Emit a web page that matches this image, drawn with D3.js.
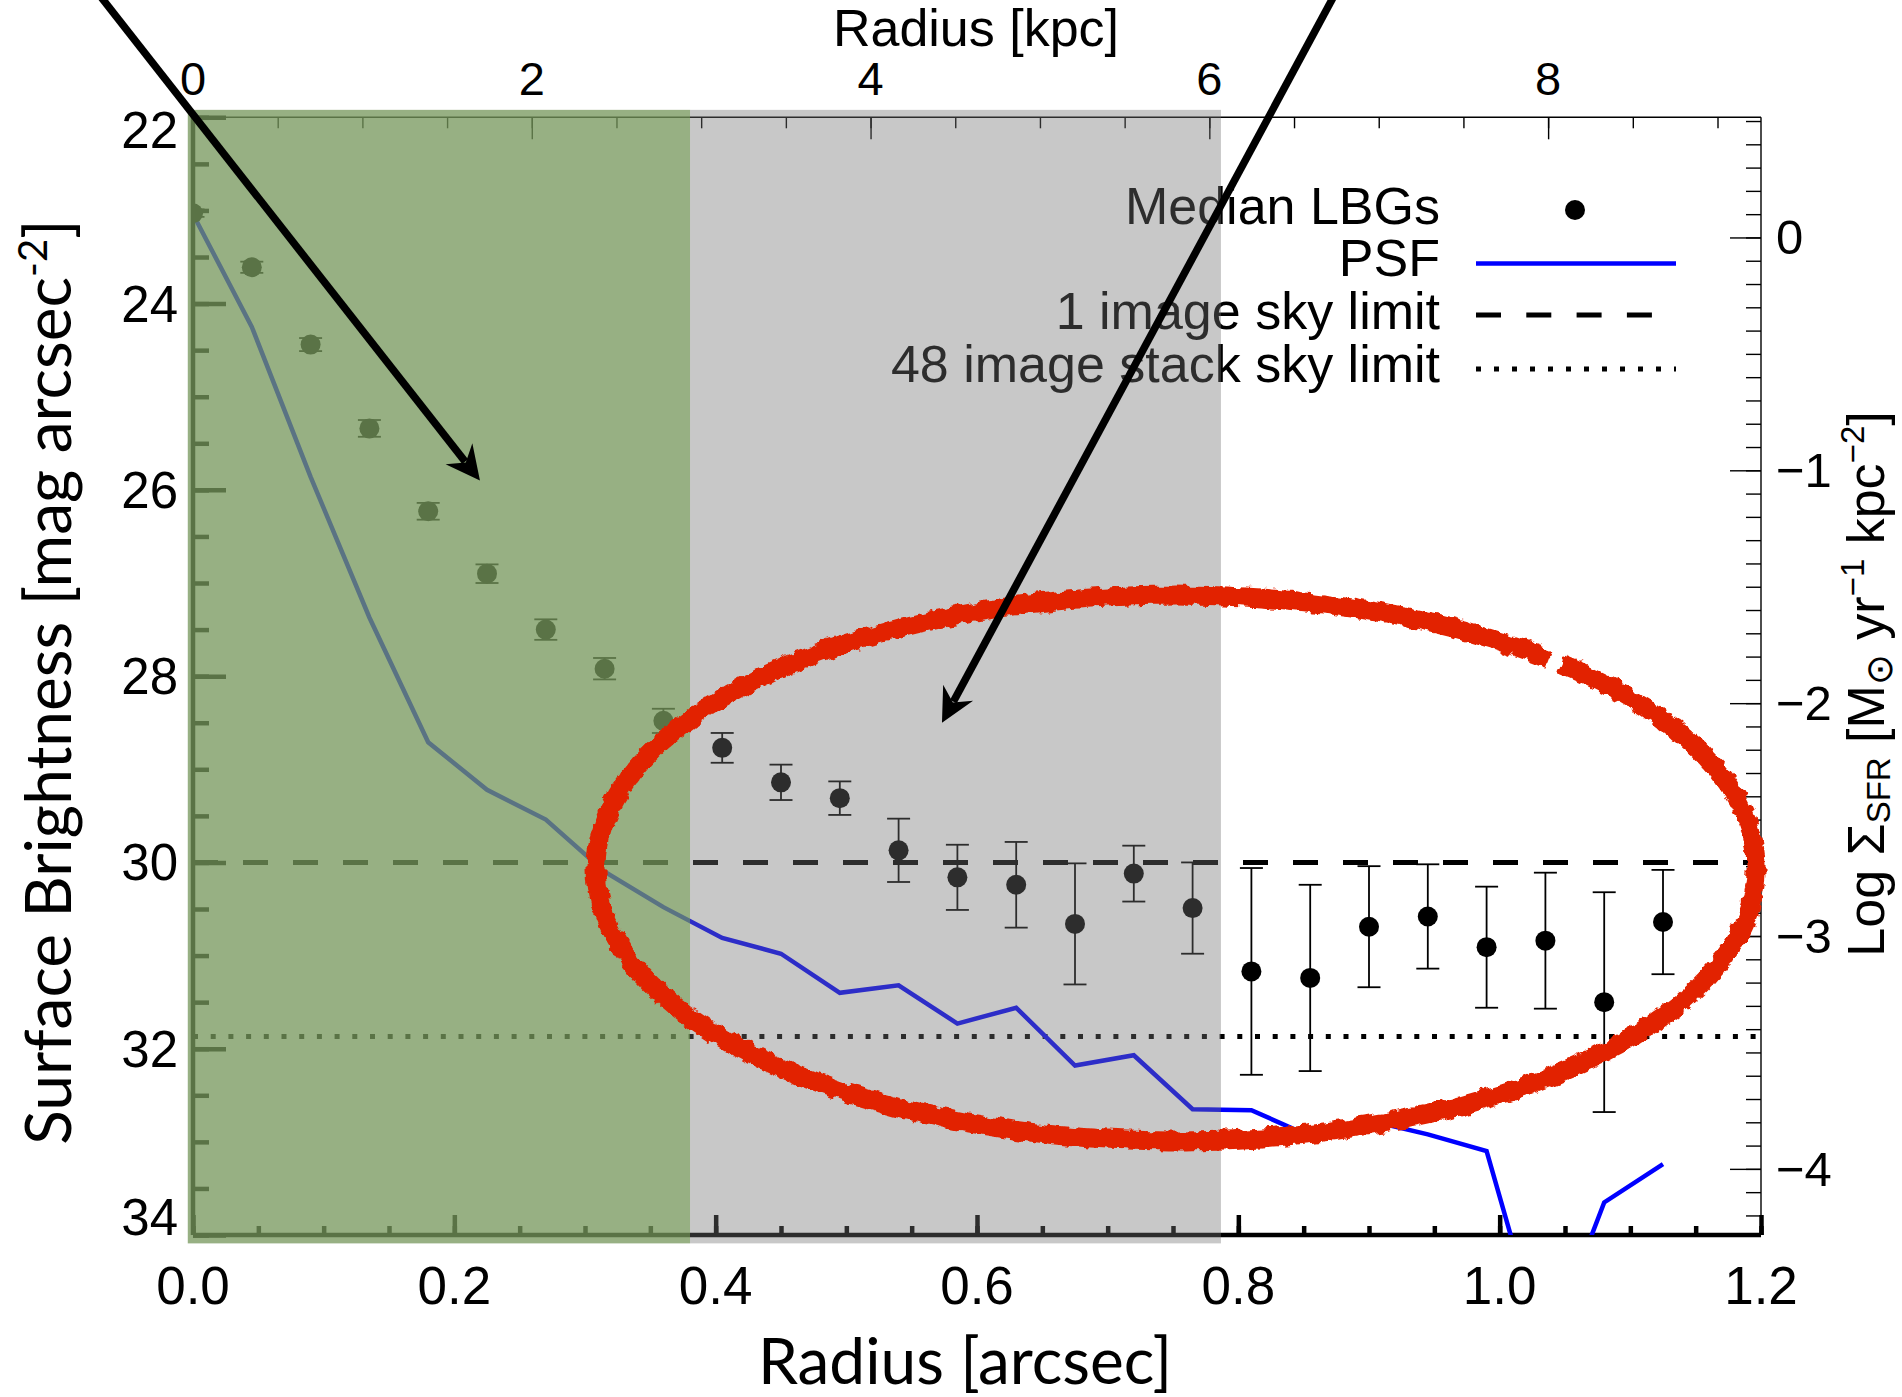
<!DOCTYPE html>
<html><head><meta charset="utf-8">
<script src="https://cdn.jsdelivr.net/npm/d3@7"></script>
<style>
html,body{margin:0;padding:0;background:#fff;}
svg{display:block;}
</style></head><body>
<svg id="chart" width="1902" height="1397"></svg>
<script>
// ---------------- data ----------------
const radiusArcsec = [0.000,0.045,0.090,0.135,0.180,0.225,0.270,0.315,0.360,0.405,0.450,0.495,0.540,
                      0.585,0.630,0.675,0.720,0.765,0.810,0.855,0.900,0.945,0.990,1.035,1.080,1.125];
const lbgMag = [23.03,23.61,24.44,25.34,26.23,26.90,27.50,27.92,28.48,28.77,29.14,29.31,29.87,
                30.16,30.24,30.66,30.12,30.49,31.17,31.24,30.69,30.58,30.91,30.84,31.50,30.64];
const lbgErr = [0.04,0.06,0.07,0.09,0.09,0.10,0.11,0.115,0.13,0.16,0.19,0.18,0.34,
                0.35,0.46,0.65,0.30,0.49,1.11,1.00,0.65,0.56,0.65,0.73,1.18,0.56];
const psfMag = [23.04,24.25,25.86,27.37,28.71,29.22,29.54,30.10,30.48,30.81,30.98,31.40,31.32,
                31.73,31.56,32.18,32.07,32.65,32.66,32.94,32.77,32.92,33.10,35.30,33.65,33.24];
const skyLimit1 = 30.0;
const skyLimit48 = 31.87;
const shadeGreen = [-0.004, 0.3804];
const shadeGray = [0.3804, 0.7867];
const shadeMag = [21.92, 34.09];
const xTicks = [0.0,0.2,0.4,0.6,0.8,1.0,1.2];
const xTickLabels = ["0.0","0.2","0.4","0.6","0.8","1.0","1.2"];
const kpcTicks = [0,2,4,6,8];
const kpcTickLabels = ["0","2","4","6","8"];
const magTicks = [22,24,26,28,30,32,34];
const magTickLabels = ["22","24","26","28","30","32","34"];
const sfrTicks = [0,-1,-2,-3,-4];
const sfrTickLabels = ["0","\u22121","\u22122","\u22123","\u22124"];
const kpcPerArcsec = 7.714;
const magAtLogSfrZero = 23.29;
const legendLabels = ["Median LBGs","PSF","1 image sky limit","48 image stack sky limit"];
// annotations (data coordinates: [arcsec, mag])
const arrows = [
  {from:[-0.0804,20.53], to:[0.2196,25.90]},
  {from:[0.8796,20.53], to:[0.5732,28.50]}
];
const ellipseC = [0.7523, 30.06];
const ellipseR = [0.4439, 2.93];

// ---------------- scales ----------------
const L = 193, R = 1761, T = 117.3, B = 1235;
const x = d3.scaleLinear().domain([0,1.2]).range([L,R]);
const y = d3.scaleLinear().domain([22,34]).range([T,B]);
const xk = d3.scaleLinear().domain([0,1.2*kpcPerArcsec]).range([L,R]);
const ys = d3.scaleLinear().domain([(magAtLogSfrZero-22)/2.5,(magAtLogSfrZero-34)/2.5]).range([T,B]);

const svg = d3.select("#chart");
const defs = svg.append("defs");
defs.append("clipPath").attr("id","plotclip").append("rect")
  .attr("x",L).attr("y",T).attr("width",R-L).attr("height",B-T);
const flt = defs.append("filter").attr("id","rough")
  .attr("x","-10%").attr("y","-10%").attr("width","120%").attr("height","120%");
flt.append("feTurbulence").attr("type","fractalNoise").attr("baseFrequency","0.09")
  .attr("numOctaves",3).attr("seed",7).attr("result","noise");
flt.append("feDisplacementMap").attr("in","SourceGraphic").attr("in2","noise")
  .attr("scale",9).attr("xChannelSelector","R").attr("yChannelSelector","G");

const tickFont = "'Liberation Sans', Arial, Helvetica, sans-serif";
const titleFont = "Lato, 'Open Sans', sans-serif";

// ---------------- axes ----------------
const gAx = svg.append("g");
function styleAx(w){ return g=>{g.select(".domain").remove(); g.selectAll("line").attr("stroke","#000").attr("stroke-width",w);}; }
gAx.append("g").attr("transform",`translate(${L},0)`)
  .call(d3.axisRight(y).tickValues(d3.range(22,34.01,0.5)).tickSize(16).tickFormat(()=>"")).call(styleAx(4.5));
gAx.append("g").attr("transform",`translate(${L},0)`)
  .call(d3.axisRight(y).tickValues(magTicks).tickSize(33).tickFormat(()=>"")).call(styleAx(4.5));
gAx.append("g").attr("transform",`translate(0,${B})`)
  .call(d3.axisTop(x).tickValues(d3.range(0,1.2001,0.05)).tickSize(9).tickFormat(()=>"")).call(styleAx(4.5));
gAx.append("g").attr("transform",`translate(0,${B})`)
  .call(d3.axisTop(x).tickValues(xTicks).tickSize(20).tickFormat(()=>"")).call(styleAx(4.5));
gAx.append("g").attr("transform",`translate(0,${T})`)
  .call(d3.axisBottom(xk).tickValues(d3.range(0,9.26,0.5)).tickSize(11).tickFormat(()=>"")).call(styleAx(1.4));
gAx.append("g").attr("transform",`translate(0,${T})`)
  .call(d3.axisBottom(xk).tickValues(kpcTicks).tickSize(22).tickFormat(()=>"")).call(styleAx(1.4));
gAx.append("g").attr("transform",`translate(${R},0)`)
  .call(d3.axisLeft(ys).tickValues(d3.range(0.5,-4.3,-0.1).map(v=>Math.round(v*10)/10)).tickSize(15).tickFormat(()=>"")).call(styleAx(1.4));
gAx.append("g").attr("transform",`translate(${R},0)`)
  .call(d3.axisLeft(ys).tickValues(sfrTicks).tickSize(31).tickFormat(()=>"")).call(styleAx(1.4));
gAx.append("line").attr("x1",L).attr("x2",R).attr("y1",T).attr("y2",T).attr("stroke","#000").attr("stroke-width",1.4);
gAx.append("line").attr("x1",R).attr("x2",R).attr("y1",T).attr("y2",B).attr("stroke","#000").attr("stroke-width",1.4);
gAx.append("line").attr("x1",L).attr("x2",R).attr("y1",B).attr("y2",B).attr("stroke","#000").attr("stroke-width",4.5);
gAx.append("line").attr("x1",L).attr("x2",L).attr("y1",T).attr("y2",B).attr("stroke","#000").attr("stroke-width",4.5);

// tick labels
const gLab = svg.append("g").attr("font-family",tickFont).attr("fill","#000");
gLab.selectAll(".ml").data(magTicks).join("text")
  .attr("x",178).attr("text-anchor","end").attr("font-size",51)
  .attr("y",(d,i)=> i===0 ? y(d)+31 : (i===magTicks.length-1 ? y(d) : y(d)+18))
  .text((d,i)=>magTickLabels[i]);
gLab.selectAll(".xl").data(xTicks).join("text")
  .attr("x",d=>x(d)).attr("y",B+68.6).attr("text-anchor","middle").attr("font-size",53)
  .text((d,i)=>xTickLabels[i]);
gLab.selectAll(".kl").data(kpcTicks).join("text")
  .attr("x",d=>xk(d)).attr("y",T-22.3).attr("text-anchor","middle").attr("font-size",47)
  .text((d,i)=>kpcTickLabels[i]);
gLab.selectAll(".sl").data(sfrTicks).join("text")
  .attr("x",1776).attr("y",d=>ys(d)+17).attr("text-anchor","start").attr("font-size",49)
  .text((d,i)=>sfrTickLabels[i]);

// titles
svg.append("text").attr("x",976).attr("y",46).attr("text-anchor","middle")
  .attr("font-family",tickFont).attr("font-size",52).text("Radius [kpc]");
svg.append("text").attr("x",965).attr("y",1384).attr("text-anchor","middle")
  .attr("font-family",titleFont).attr("font-size",64).text("Radius [arcsec]");
const lt = svg.append("text").attr("transform","translate(71,682) rotate(-90)").attr("text-anchor","middle")
  .attr("font-family",titleFont).attr("font-size",64);
lt.append("tspan").text("Surface Brightness [mag arcsec");
lt.append("tspan").attr("dy",-24).attr("font-size",40).text("-2");
lt.append("tspan").attr("dy",24).text("]");
const rt = svg.append("text").attr("transform","translate(1884,684) rotate(-90)").attr("text-anchor","middle")
  .attr("font-family",tickFont).attr("font-size",52);
rt.append("tspan").text("Log \u03A3");
rt.append("tspan").attr("dy",6).attr("font-size",33).text("SFR");
rt.append("tspan").attr("dy",-6).text(" [M");
rt.append("tspan").attr("dy",8).attr("font-size",37).text("\u2299");
rt.append("tspan").attr("dy",-8).text(" yr");
rt.append("tspan").attr("dy",-20).attr("font-size",33).text("\u22121");
rt.append("tspan").attr("dy",20).text(" kpc");
rt.append("tspan").attr("dy",-20).attr("font-size",33).text("\u22122");
rt.append("tspan").attr("dy",20).text("]");

// ---------------- data marks ----------------
const plot = svg.append("g").attr("clip-path","url(#plotclip)");
plot.append("line").attr("x1",x(0)).attr("x2",x(1.2)).attr("y1",y(skyLimit1)).attr("y2",y(skyLimit1))
  .attr("stroke","#000").attr("stroke-width",5).attr("stroke-dasharray","25,25");
plot.append("line").attr("x1",x(0)).attr("x2",x(1.2)).attr("y1",y(skyLimit48)).attr("y2",y(skyLimit48))
  .attr("stroke","#000").attr("stroke-width",5).attr("stroke-dasharray","5,12.7");
const psfData = radiusArcsec.map((r,i)=>[r,psfMag[i]]);
plot.append("path").datum(psfData)
  .attr("d",d3.line().x(d=>x(d[0])).y(d=>y(d[1])))
  .attr("fill","none").attr("stroke","#0000ff").attr("stroke-width",4.5).attr("stroke-linejoin","miter");
const pts = radiusArcsec.map((r,i)=>({r, m:lbgMag[i], e:lbgErr[i]}));
const gE = plot.append("g").attr("stroke","#000").attr("stroke-width",1.8);
gE.selectAll(".ev").data(pts).join("line")
  .attr("x1",d=>x(d.r)).attr("x2",d=>x(d.r)).attr("y1",d=>y(d.m-d.e)).attr("y2",d=>y(d.m+d.e));
gE.selectAll(".ct").data(pts).join("line")
  .attr("x1",d=>x(d.r)-11.5).attr("x2",d=>x(d.r)+11.5).attr("y1",d=>y(d.m-d.e)).attr("y2",d=>y(d.m-d.e));
gE.selectAll(".cb").data(pts).join("line")
  .attr("x1",d=>x(d.r)-11.5).attr("x2",d=>x(d.r)+11.5).attr("y1",d=>y(d.m+d.e)).attr("y2",d=>y(d.m+d.e));
plot.append("g").selectAll("circle").data(pts).join("circle")
  .attr("cx",d=>x(d.r)).attr("cy",d=>y(d.m)).attr("r",10).attr("fill","#000");

// ---------------- legend ----------------
const lg = svg.append("g").attr("font-family",tickFont).attr("font-size",52);
const legBase = [223.5,276.3,329,382];
lg.selectAll("text").data(legendLabels).join("text")
  .attr("x",1440).attr("y",(d,i)=>legBase[i]).attr("text-anchor","end").text(d=>d);
lg.append("circle").attr("cx",1575).attr("cy",210).attr("r",10).attr("fill","#000");
lg.append("line").attr("x1",1476).attr("x2",1676).attr("y1",263.5).attr("y2",263.5)
  .attr("stroke","#0000ff").attr("stroke-width",4.5);
lg.append("line").attr("x1",1476).attr("x2",1652).attr("y1",315).attr("y2",315)
  .attr("stroke","#000").attr("stroke-width",5).attr("stroke-dasharray","25,25.3");
lg.append("line").attr("x1",1476).attr("x2",1676).attr("y1",369).attr("y2",369)
  .attr("stroke","#000").attr("stroke-width",5).attr("stroke-dasharray","5,13");

// ---------------- overlays ----------------
svg.append("rect").attr("x",x(shadeGreen[0])).attr("width",x(shadeGreen[1])-x(shadeGreen[0]))
  .attr("y",y(shadeMag[0])).attr("height",y(shadeMag[1])-y(shadeMag[0]))
  .attr("fill","rgb(118,151,92)").attr("fill-opacity",0.761);
svg.append("rect").attr("x",x(shadeGray[0])).attr("width",x(shadeGray[1])-x(shadeGray[0]))
  .attr("y",y(shadeMag[0])).attr("height",y(shadeMag[1])-y(shadeMag[0]))
  .attr("fill","rgb(115,115,115)").attr("fill-opacity",0.392);

// red hand-drawn ellipse
const ecx = x(ellipseC[0]), ecy = y(ellipseC[1]);
const erx = x(ellipseC[0]+ellipseR[0]) - ecx, ery = y(ellipseC[1]+ellipseR[1]) - ecy;
const angs = d3.range(-48.4, 360-49.6, 0.8).map(a=>a*Math.PI/180);
svg.append("path").datum(angs)
  .attr("d",d3.line().x(a=>ecx+erx*Math.cos(a)).y(a=>ecy+ery*Math.sin(a)))
  .attr("fill","none").attr("stroke","#e22400").attr("stroke-width",19)
  .attr("filter","url(#rough)");

// arrows
arrows.forEach(a=>{
  const x0=x(a.from[0]), y0=y(a.from[1]), x1=x(a.to[0]), y1=y(a.to[1]);
  const dx=x1-x0, dy=y1-y0, len=Math.hypot(dx,dy), ux=dx/len, uy=dy/len, nx=-uy, ny=ux;
  svg.append("line").attr("x1",x0).attr("y1",y0).attr("x2",x1-ux*24).attr("y2",y1-uy*24)
    .attr("stroke","#000").attr("stroke-width",7.5);
  const head = [[x1,y1],[x1-ux*34+nx*17,y1-uy*34+ny*17],[x1-ux*23,y1-uy*23],[x1-ux*34-nx*17,y1-uy*34-ny*17]];
  svg.append("path").attr("d","M"+head.map(p=>p.join(",")).join("L")+"Z").attr("fill","#000");
});
</script>
</body></html>
